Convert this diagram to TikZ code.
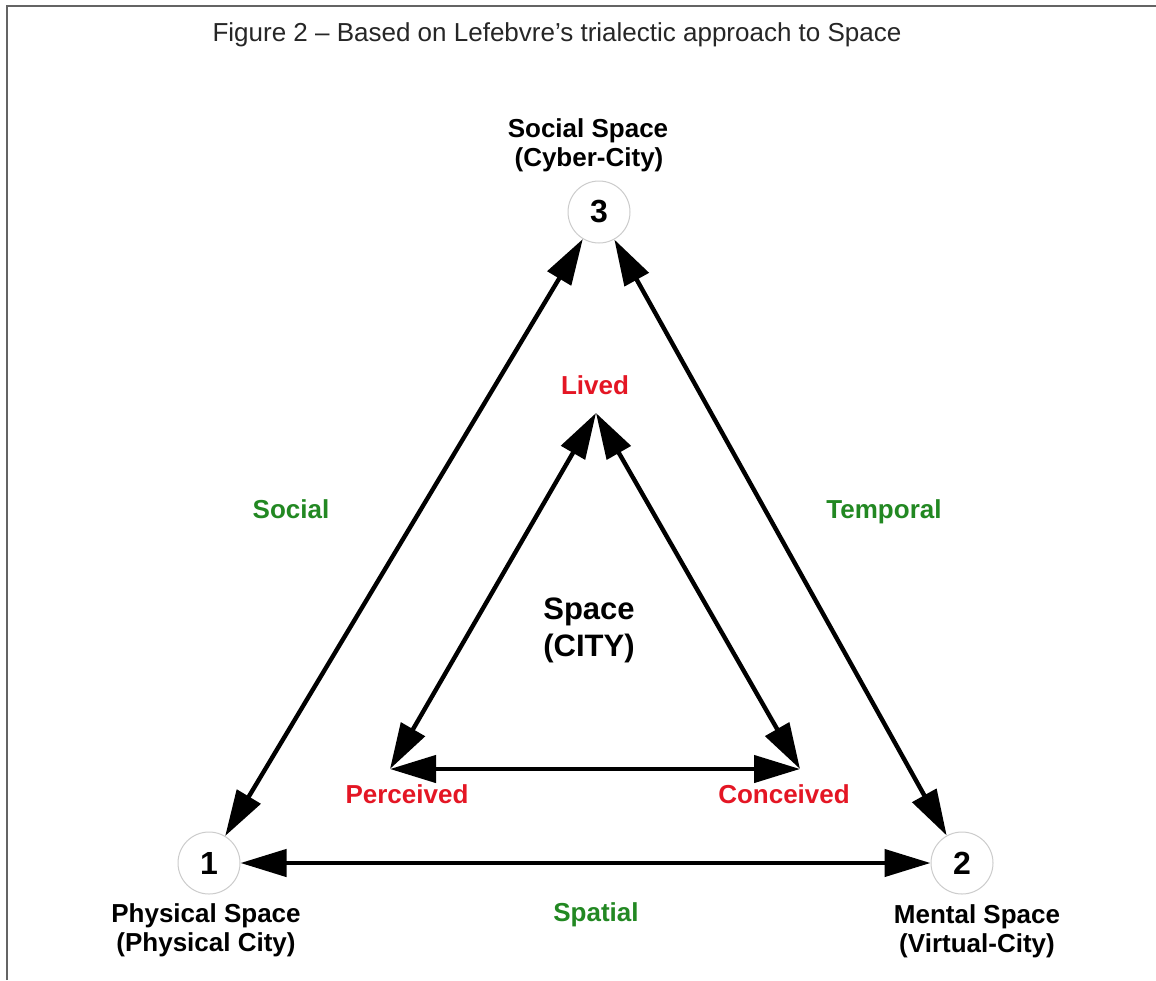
\documentclass[tikz,border=0pt]{standalone}
\usepackage{fontspec}
\setmainfont{Liberation Sans}
\usetikzlibrary{arrows.meta}
\definecolor{lred}{RGB}{228,22,36}
\definecolor{lgreen}{RGB}{34,136,34}
\definecolor{frame}{RGB}{100,100,100}
\begin{document}
\begin{tikzpicture}[x=1pt,y=-1pt,
  lab/.style={font=\fontsize{26}{30}\selectfont\bfseries, anchor=base, inner sep=0pt},
  redlab/.style={lab, text=lred},
  greenlab/.style={lab, text=lgreen},
  biglab/.style={font=\fontsize{31}{36}\selectfont\bfseries, anchor=base, inner sep=0pt},
  num/.style={circle, draw=black!20, line width=1pt, minimum size=62pt, inner sep=0pt,
    font=\fontsize{32}{36}\selectfont\bfseries},
  arr/.style={line width=4.4pt, {Triangle[length=46pt,width=27pt]}-{Triangle[length=46pt,width=27pt]}}
]
\useasboundingbox (0,0) rectangle (1156,980);
\fill[white] (0,0) rectangle (1156,980);
\draw[frame, line width=2pt] (7,980) -- (7,6) -- (1156,6);

\node[anchor=base, inner sep=0pt, font=\fontsize{26}{30}\selectfont, text=black!85] (title) at (557,41)
  {Figure 2 – Based on Lefebvre’s trialectic approach to Space};

% corner circles
\node[num] (n3) at (599,212) {3};
\node[num] (n1) at (209,863) {1};
\node[num] (n2) at (962,863) {2};

% inner triangle points
\coordinate (L) at (596,413);
\coordinate (P) at (390,769);
\coordinate (C) at (800,769);

% arrows
\draw[arr] (n3) -- (n1);
\draw[arr] (n3) -- (n2);
\draw[arr] (n1) -- (n2);
\draw[arr] (L) -- (P);
\draw[arr] (L) -- (C);
\draw[arr] (P) -- (C);

% corner labels
\node[lab] (s3a) at (588,137) {Social Space};
\node[lab] (s3b) at (589,166) {(Cyber-City)};
\node[lab] (s1a) at (206,922) {Physical Space};
\node[lab] (s1b) at (206,951) {(Physical City)};
\node[lab] (s2a) at (977,923) {Mental Space};
\node[lab] (s2b) at (977,952) {(Virtual-City)};

% inner labels
\node[redlab] (lived) at (595,394) {Lived};
\node[redlab] (perc) at (407,803) {Perceived};
\node[redlab] (conc) at (784,803) {Conceived};

% side labels
\node[greenlab] (social) at (291,518) {Social};
\node[greenlab] (temporal) at (884,518) {Temporal};
\node[greenlab] (spatial) at (596,921) {Spatial};

% centre
\node[biglab] (space) at (589,619) {Space};
\node[biglab] (city) at (589,656) {(CITY)};
\end{tikzpicture}
\end{document}
